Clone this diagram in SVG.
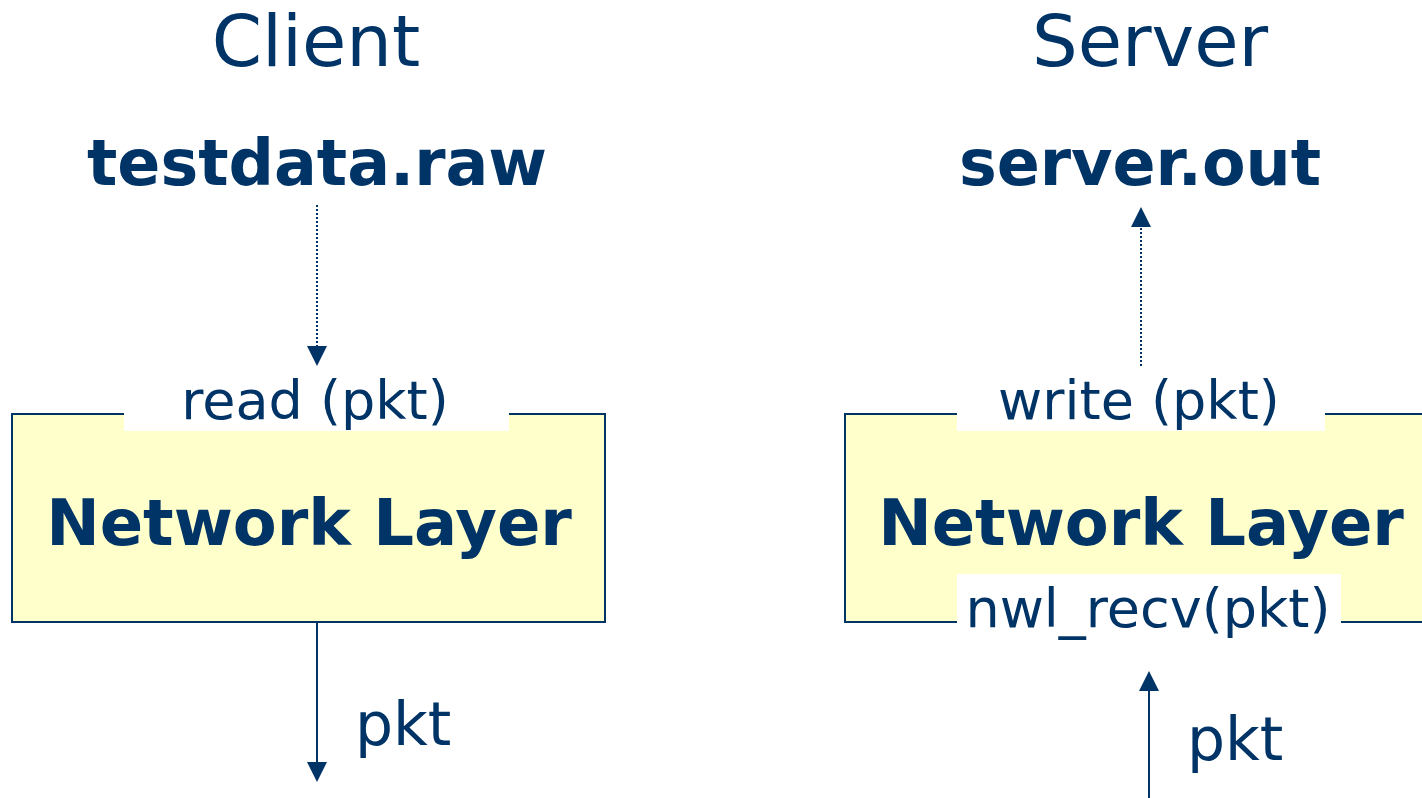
<svg xmlns="http://www.w3.org/2000/svg" width="1422" height="798" viewBox="0 0 1422 798">
<style>
text{font-family:"DejaVu Sans","Verdana",sans-serif;fill:#003366}
.title{font-size:72px}
.file{font-size:63.5px;font-weight:bold}
.layer{font-size:64px;font-weight:bold}
.lbl{font-size:54px}
.pkt{font-size:60px}
.box{fill:#FFFFCC;stroke:#003366;stroke-width:2}
.mask{fill:#FFFFFF}
.dot{stroke:#003366;stroke-width:2;stroke-dasharray:2 2;fill:none}
.solid{stroke:#003366;stroke-width:2;fill:none}
</style>
<defs>
<marker id="ah" viewBox="0 0 20 20" refX="0" refY="10" markerWidth="20" markerHeight="20" markerUnits="userSpaceOnUse" orient="auto">
<path d="M0,0 L20,10 L0,20 Z" fill="#003366"/>
</marker>
</defs>
<g id="client-title"><text class="title" x="316" y="66" text-anchor="middle">Client</text></g>
<g id="server-title"><text class="title" x="1150" y="66" text-anchor="middle">Server</text></g>
<g id="testdata"><text class="file" x="317" y="185" text-anchor="middle">testdata.raw</text></g>
<g id="serverout"><text class="file" x="1140" y="185" text-anchor="middle">server.out</text></g>
<g id="client-nl">
<rect class="box" x="12" y="414" width="593" height="208"/>
<rect class="mask" x="124" y="400" width="385" height="31"/>
<text class="lbl" x="315" y="419" text-anchor="middle">read (pkt)</text>
<text class="layer" x="309" y="545" text-anchor="middle">Network Layer</text>
</g>
<g id="server-nl">
<rect class="box" x="845" y="414" width="600" height="208"/>
<rect class="mask" x="957" y="400" width="368" height="31"/>
<text class="lbl" x="1139" y="419" text-anchor="middle">write (pkt)</text>
<text class="layer" x="1141" y="545" text-anchor="middle">Network Layer</text>
<rect class="mask" x="957" y="574" width="384" height="60"/>
<text class="lbl" x="1148" y="627" text-anchor="middle">nwl_recv(pkt)</text>
</g>
<g id="connectors">
<line class="dot" x1="317" y1="205" x2="317" y2="346" marker-end="url(#ah)"/>
<line class="dot" x1="1141" y1="366" x2="1141" y2="227" marker-end="url(#ah)"/>
<line class="solid" x1="317" y1="622" x2="317" y2="762" marker-end="url(#ah)"/>
<line class="solid" x1="1149" y1="798" x2="1149" y2="691" marker-end="url(#ah)"/>
</g>
<g id="pkt-labels">
<text class="pkt" x="355" y="745">pkt</text>
<text class="pkt" x="1187" y="760">pkt</text>
</g>
</svg>
